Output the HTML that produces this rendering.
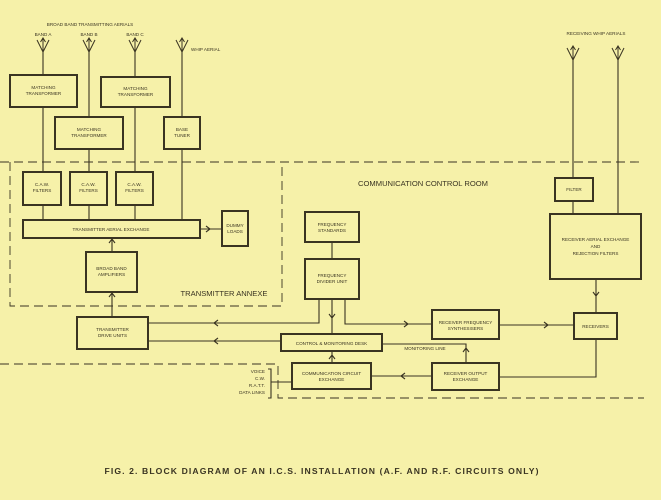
<!DOCTYPE html>
<html><head><meta charset="utf-8"><style>
html,body{margin:0;padding:0;background:#f6f1a9;}
svg{display:block;font-family:"Liberation Sans",sans-serif;}
text{fill:#3a3422;}
</style></head><body>
<svg width="661" height="500" viewBox="0 0 661 500" xmlns="http://www.w3.org/2000/svg">
<rect width="661" height="500" fill="#f6f1a9"/>
<defs>
<g id="ant"><path d="M-6,-12 L0,0 L6,-12 M0,0 L0,-14 M-2.5,-10 L0,-14 L2.5,-10" fill="none" stroke="#3a3422" stroke-width="1"/></g>
</defs>
<g stroke="#3a3422" fill="none">
<g stroke-dasharray="9,5" stroke-width="0.9">
<path d="M0,162 L644,162"/>
<path d="M10,162 L10,306 L282,306 L282,162"/>
<path d="M0,364 L278,364 L278,398 L644,398"/>
</g>
<g stroke-width="2">
<rect x="10" y="75" width="67" height="32"/>
<rect x="101" y="77" width="69" height="30"/>
<rect x="55" y="117" width="68" height="32"/>
<rect x="164" y="117" width="36" height="32"/>
<rect x="23" y="172" width="38" height="33"/>
<rect x="70" y="172" width="37" height="33"/>
<rect x="116" y="172" width="37" height="33"/>
<rect x="23" y="220" width="177" height="18"/>
<rect x="222" y="211" width="26" height="35"/>
<rect x="86" y="252" width="51" height="40"/>
<rect x="77" y="317" width="71" height="32"/>
<rect x="305" y="212" width="54" height="30"/>
<rect x="305" y="259" width="54" height="40"/>
<rect x="281" y="334" width="101" height="17"/>
<rect x="292" y="363" width="79" height="26"/>
<rect x="432" y="310" width="67" height="29"/>
<rect x="432" y="363" width="67" height="27"/>
<rect x="574" y="313" width="43" height="26"/>
<rect x="555" y="178" width="38" height="23"/>
<rect x="550" y="214" width="91" height="65"/>
</g>
<g stroke-width="1.1">
<path d="M43,52 L43,75 M43,107 L43,172 M43,205 L43,220"/>
<path d="M89,52 L89,117 M89,149 L89,172 M89,205 L89,220"/>
<path d="M135,52 L135,77 M135,107 L135,172 M135,205 L135,220"/>
<path d="M182,52 L182,117 M182,149 L182,220"/>
<path d="M200,229 L222,229 M206,226 L210,229 L206,232"/>
<path d="M112,238 L112,252 M109,243 L112,239 L115,243"/>
<path d="M112,292 L112,317 M109,297 L112,293 L115,297"/>
<path d="M332,242 L332,259"/>
<path d="M319,299 L319,323 L148,323 M218,320 L214,323 L218,326"/>
<path d="M332,299 L332,334 M329,314 L332,318 L335,314"/>
<path d="M345,299 L345,324 L432,324 M404,321 L408,324 L404,327"/>
<path d="M499,325 L574,325 M544,322 L548,325 L544,328"/>
<path d="M596,279 L596,313 M593,292 L596,296 L599,292"/>
<path d="M596,339 L596,377 L499,377"/>
<path d="M281,341 L148,341 M218,338 L214,341 L218,344"/>
<path d="M382,344 L466,344 L466,363 M463,352 L466,348 L469,352"/>
<path d="M332,363 L332,351 M329,359 L332,355 L335,359"/>
<path d="M432,376 L371,376 M405,373 L401,376 L405,379"/>
<path d="M268,369 L271,369 L271,398 L268,398 M271,382 L292,382"/>
<path d="M573,60 L573,178 M573,201 L573,214"/>
<path d="M618,60 L618,214"/>
</g>
</g>
<use href="#ant" x="43" y="52"/>
<use href="#ant" x="89" y="52"/>
<use href="#ant" x="135" y="52"/>
<use href="#ant" x="182" y="52"/>
<use href="#ant" x="573" y="60"/>
<use href="#ant" x="618" y="60"/>
<g font-size="4.6" text-anchor="middle">
<text x="90" y="26">BROAD BAND TRANSMITTING AERIALS</text>
<text x="43" y="36">BAND A</text>
<text x="89" y="36">BAND B</text>
<text x="135" y="36">BAND C</text>
<text x="191" y="51" text-anchor="start">WHIP AERIAL</text>
<text x="596" y="35">RECEIVING WHIP AERIALS</text>
<text x="43.5" y="89">MATCHING</text><text x="43.5" y="95">TRANSFORMER</text>
<text x="135.5" y="90">MATCHING</text><text x="135.5" y="96">TRANSFORMER</text>
<text x="89" y="131">MATCHING</text><text x="89" y="137">TRANSFORMER</text>
<text x="182" y="131">BASE</text><text x="182" y="137">TUNER</text>
<text x="42" y="186">C.A.W.</text><text x="42" y="192">FILTERS</text>
<text x="88.5" y="186">C.A.W.</text><text x="88.5" y="192">FILTERS</text>
<text x="134.5" y="186">C.A.W.</text><text x="134.5" y="192">FILTERS</text>
<text x="111" y="231">TRANSMITTER AERIAL EXCHANGE</text>
<text x="235" y="227">DUMMY</text><text x="235" y="233">LOADS</text>
<text x="111.5" y="270">BROAD BAND</text><text x="111.5" y="276">AMPLIFIERS</text>
<text x="112.5" y="331">TRANSMITTER</text><text x="112.5" y="337">DRIVE UNITS</text>
<text x="332" y="226">FREQUENCY</text><text x="332" y="232">STANDARDS</text>
<text x="332" y="277">FREQUENCY</text><text x="332" y="283">DIVIDER UNIT</text>
<text x="331.5" y="345">CONTROL &amp; MONITORING DESK</text>
<text x="331.5" y="375">COMMUNICATION CIRCUIT</text><text x="331.5" y="381">EXCHANGE</text>
<text x="465.5" y="324">RECEIVER FREQUENCY</text><text x="465.5" y="330">SYNTHESISERS</text>
<text x="465.5" y="375">RECEIVER OUTPUT</text><text x="465.5" y="381">EXCHANGE</text>
<text x="595.5" y="328">RECEIVERS</text>
<text x="574" y="191">FILTER</text>
<text x="595.5" y="241">RECEIVER AERIAL EXCHANGE</text><text x="595.5" y="248">AND</text><text x="595.5" y="255">REJECTION FILTERS</text>
<text x="425" y="350">MONITORING LINE</text>
<g text-anchor="end"><text x="265" y="373">VOICE</text><text x="265" y="380">C.W.</text><text x="265" y="387">R.A.T.T.</text><text x="265" y="394">DATA LINKS</text></g>
</g>
<text x="224" y="296" font-size="7.6" text-anchor="middle">TRANSMITTER ANNEXE</text>
<text x="423" y="186" font-size="7.6" text-anchor="middle">COMMUNICATION CONTROL ROOM</text>
<text x="322" y="474" font-size="8.6" font-weight="bold" text-anchor="middle" letter-spacing="1" textLength="435">FIG. 2.  BLOCK DIAGRAM OF AN I.C.S. INSTALLATION (A.F. AND R.F. CIRCUITS ONLY)</text>
</svg>
</body></html>
